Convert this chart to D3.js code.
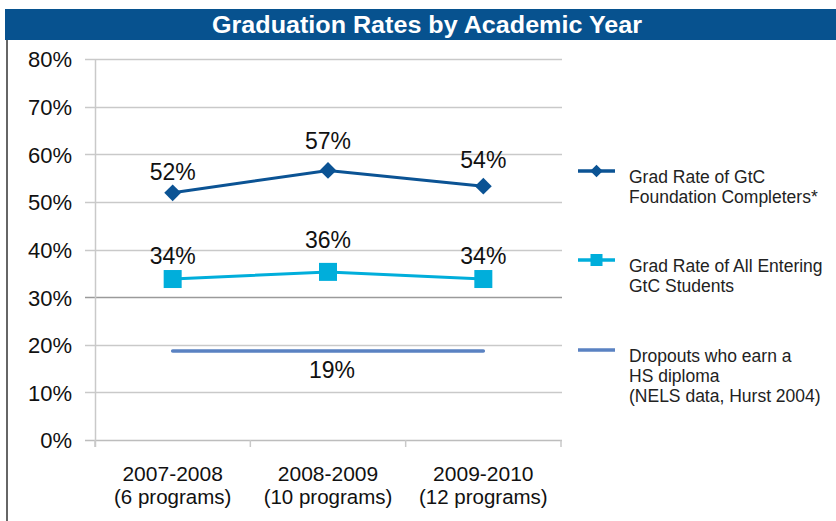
<!DOCTYPE html>
<html>
<head>
<meta charset="utf-8">
<script src="https://cdn.jsdelivr.net/npm/d3@7"></script>
<style>
  html, body { margin: 0; padding: 0; background: #fff; }
  svg { display: block; font-family: "Liberation Sans", Arial, Helvetica, sans-serif; }
</style>
</head>
<body>
<svg id="chart" width="836" height="521"></svg>
<script>
// ---- data ----
const title = "Graduation Rates by Academic Year";
const categories = ["2007-2008", "2008-2009", "2009-2010"];
const categorySubLabels = ["(6 programs)", "(10 programs)", "(12 programs)"];
const foundationCompleters = [0.519, 0.566, 0.533];
const foundationLabels = ["52%", "57%", "54%"];
const allEntering = [0.338, 0.353, 0.338];
const allEnteringLabels = ["34%", "36%", "34%"];
const dropoutsDiploma = [0.187, 0.187, 0.187];
const dropoutsLabel = "19%";
const yTicks = [0, 0.1, 0.2, 0.3, 0.4, 0.5, 0.6, 0.7, 0.8];
const legendLabels = [
  ["Grad Rate of GtC", "Foundation Completers*"],
  ["Grad Rate of All Entering", "GtC Students"],
  ["Dropouts who earn a", "HS diploma", "(NELS data, Hurst 2004)"]
];

// ---- layout / style ----
const C_DARK = "#0B5394", C_LIGHT = "#00AEDB", C_FLAT = "#5A82C2", C_TITLE = "#07528F";
const labelDyDark = [-13, -21, -18];
const labelDyLight = [-15, -24, -15];

const svg = d3.select("#chart");

// title bar
svg.append("rect").attr("x", 5).attr("y", 9).attr("width", 831).attr("height", 31).attr("fill", C_TITLE);
svg.append("text").attr("x", 427).attr("y", 32.5).attr("text-anchor", "middle")
  .attr("fill", "#fff").attr("font-weight", "bold").attr("font-size", 23)
  .attr("textLength", 430).attr("lengthAdjust", "spacingAndGlyphs").text(title);
// left border
svg.append("line").attr("x1", 7).attr("x2", 7).attr("y1", 40).attr("y2", 521)
  .attr("stroke", "#333").attr("stroke-width", 1.5);

const x = d3.scaleBand().domain(categories).range([95, 561]);
const cx = d => x(d) + x.bandwidth() / 2;
const y = d3.scaleLinear().domain([0, 0.8]).range([440, 59]);

// gridlines
const grid = svg.append("g");
grid.selectAll("line").data(yTicks).join("line")
  .attr("x1", 85).attr("x2", 562)
  .attr("y1", d => Math.round(y(d)) + 0.5).attr("y2", d => Math.round(y(d)) + 0.5)
  .attr("stroke", d => (Math.abs(d - 0.3) < 1e-9 ? "#9a9a9a" : (d === 0 ? "#bdbdbd" : "#c9c9c9")))
  .attr("stroke-width", 1.5);

// y axis
const yAxis = d3.axisLeft(y).tickValues(yTicks).tickFormat(d3.format(".0%")).tickSize(0).tickPadding(0);
const yg = svg.append("g").attr("transform", "translate(72,0)").call(yAxis);
yg.select(".domain").remove();
yg.selectAll("text").attr("font-size", 22).attr("fill", "#111").attr("font-family", "Liberation Sans, Arial, sans-serif").attr("dy", "0.36em");
svg.append("line").attr("x1", 95.5).attr("x2", 95.5).attr("y1", 59).attr("y2", 447)
  .attr("stroke", "#c9c9c9").attr("stroke-width", 1.5);

// x axis ticks
const xEdges = categories.map(c => x(c)).concat([x(categories[categories.length - 1]) + x.bandwidth()]);
svg.append("g").selectAll("line").data(xEdges).join("line")
  .attr("x1", d => d).attr("x2", d => d).attr("y1", 440).attr("y2", 447)
  .attr("stroke", "#c9c9c9").attr("stroke-width", 1.5);
const xlg = svg.append("g");
xlg.selectAll("text.l1").data(categories).join("text").attr("class", "l1")
  .attr("x", d => cx(d)).attr("y", 481).attr("text-anchor", "middle").attr("fill", "#111")
  .attr("font-size", 21).text(d => d);
xlg.selectAll("text.l2").data(categories).join("text").attr("class", "l2")
  .attr("x", d => cx(d)).attr("y", 504).attr("text-anchor", "middle").attr("fill", "#111")
  .attr("font-size", 20.5).text((d, i) => categorySubLabels[i]);

// lines
const line = d3.line().x((d, i) => cx(categories[i])).y(d => y(d));

svg.append("path").datum(dropoutsDiploma).attr("d", line).attr("fill", "none")
  .attr("stroke", C_FLAT).attr("stroke-width", 3.5).attr("stroke-linecap", "round");
svg.append("text").attr("x", cx(categories[1]) + 4).attr("y", y(dropoutsDiploma[1]) + 27)
  .attr("text-anchor", "middle").attr("font-size", 23).attr("fill", "#111").text(dropoutsLabel);

svg.append("path").datum(allEntering).attr("d", line).attr("fill", "none")
  .attr("stroke", C_LIGHT).attr("stroke-width", 3);
svg.append("g").selectAll("rect").data(allEntering).join("rect")
  .attr("x", (d, i) => cx(categories[i]) - 9).attr("y", d => y(d) - 9)
  .attr("width", 18).attr("height", 18).attr("fill", C_LIGHT);
svg.append("g").selectAll("text").data(allEntering).join("text")
  .attr("x", (d, i) => cx(categories[i]))
  .attr("y", (d, i) => y(d) + labelDyLight[i])
  .attr("text-anchor", "middle").attr("font-size", 23).attr("fill", "#111")
  .text((d, i) => allEnteringLabels[i]);

svg.append("path").datum(foundationCompleters).attr("d", line).attr("fill", "none")
  .attr("stroke", C_DARK).attr("stroke-width", 3);
const diamond = d3.symbol().type(d3.symbolDiamond2).size(180);
svg.append("g").selectAll("path").data(foundationCompleters).join("path")
  .attr("d", diamond)
  .attr("transform", (d, i) => `translate(${cx(categories[i])},${y(d)})`)
  .attr("fill", C_DARK);
svg.append("g").selectAll("text").data(foundationCompleters).join("text")
  .attr("x", (d, i) => cx(categories[i]))
  .attr("y", (d, i) => y(d) + labelDyDark[i])
  .attr("text-anchor", "middle").attr("font-size", 23).attr("fill", "#111")
  .text((d, i) => foundationLabels[i]);

// legend
const legendY = [171, 260, 350];
const legendColors = [C_DARK, C_LIGHT, C_FLAT];
const lg = svg.append("g");
legendLabels.forEach((lines, k) => {
  const ly = legendY[k];
  lg.append("line").attr("x1", 578).attr("x2", 615).attr("y1", ly).attr("y2", ly)
    .attr("stroke", legendColors[k]).attr("stroke-width", 3.5);
  if (k === 0) {
    lg.append("path").attr("d", d3.symbol().type(d3.symbolDiamond2).size(100)())
      .attr("transform", `translate(596.5,${ly})`).attr("fill", C_DARK);
  } else if (k === 1) {
    lg.append("rect").attr("x", 590.5).attr("y", ly - 6).attr("width", 12).attr("height", 12).attr("fill", C_LIGHT);
  }
  const t = lg.append("text").attr("font-size", 17.5).attr("fill", "#222");
  lines.forEach((s, j) => {
    t.append("tspan").attr("x", 629).attr("y", ly + 12 + j * 20).text(s);
  });
});
</script>
</body>
</html>
